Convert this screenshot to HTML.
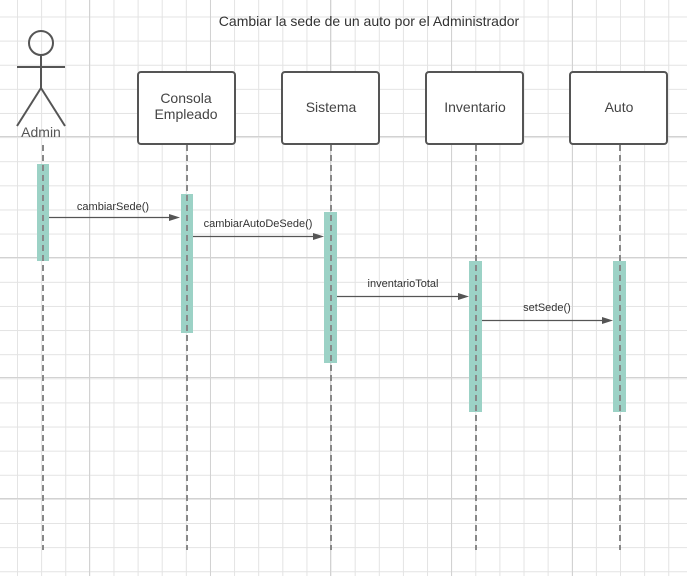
<!DOCTYPE html>
<html><head><style>
body{margin:0;width:687px;height:576px;overflow:hidden;background:#fff;font-family:"Liberation Sans",sans-serif;}
</style></head><body>
<svg width="687" height="576" xmlns="http://www.w3.org/2000/svg">
<defs>
<pattern id="g" x="17" y="16.5" width="24.12" height="24.12" patternUnits="userSpaceOnUse">
<path d="M0 0.5H24.12M0.5 0V24.12" stroke="#e3e3e3" stroke-width="1" fill="none"/>
</pattern>
</defs>
<rect width="687" height="576" fill="url(#g)"/>
<g stroke="#d2d2d2" stroke-width="1">
<line x1="89.5" y1="0" x2="89.5" y2="576"/><line x1="210.5" y1="0" x2="210.5" y2="576"/><line x1="330.5" y1="0" x2="330.5" y2="576"/><line x1="451.5" y1="0" x2="451.5" y2="576"/><line x1="572.5" y1="0" x2="572.5" y2="576"/>
<line x1="0" y1="136.5" x2="687" y2="136.5"/><line x1="0" y1="257.5" x2="687" y2="257.5"/><line x1="0" y1="377.5" x2="687" y2="377.5"/><line x1="0" y1="498.5" x2="687" y2="498.5"/>
</g>
<text x="369" y="26" font-size="14" fill="#333" text-anchor="middle">Cambiar la sede de un auto por el Administrador</text>
<g stroke="#555" stroke-width="2" fill="none">
<circle cx="41" cy="43" r="12"/>
<line x1="41" y1="55" x2="41" y2="88"/>
<line x1="17" y1="67" x2="65" y2="67"/>
<line x1="41" y1="88" x2="17" y2="126"/>
<line x1="41" y1="88" x2="65" y2="126"/>
</g>
<text x="41" y="137" font-size="14" fill="#555" text-anchor="middle">Admin</text>
<g stroke="#555" stroke-width="2" fill="#fff">
<rect x="138" y="72" width="97" height="72" rx="3"/>
<rect x="282" y="72" width="97" height="72" rx="3"/>
<rect x="426" y="72" width="97" height="72" rx="3"/>
<rect x="570" y="72" width="97" height="72" rx="3"/>
</g>
<g font-size="14" fill="#444" text-anchor="middle">
<text x="186" y="103">Consola</text><text x="186" y="119">Empleado</text>
<text x="331" y="112">Sistema</text>
<text x="475" y="112">Inventario</text>
<text x="619" y="112">Auto</text>
</g>
<g fill="#9cd2c6">
<rect x="37" y="164" width="12" height="97"/>
<rect x="181" y="194" width="12" height="139"/>
<rect x="324" y="212" width="13" height="151"/>
<rect x="469" y="261" width="13" height="151"/>
<rect x="613" y="261" width="13" height="151"/>
</g>
<g stroke="#888" stroke-width="2" stroke-dasharray="6,4">
<line x1="43" y1="145" x2="43" y2="550"/>
<line x1="187" y1="145" x2="187" y2="550"/>
<line x1="331" y1="145" x2="331" y2="550"/>
<line x1="476" y1="145" x2="476" y2="550"/>
<line x1="620" y1="145" x2="620" y2="550"/>
</g>
<g stroke="#555" stroke-width="1.3">
<line x1="49" y1="217.5" x2="172" y2="217.5"/>
<line x1="193" y1="236.5" x2="316" y2="236.5"/>
<line x1="337" y1="296.5" x2="460" y2="296.5"/>
<line x1="482" y1="320.5" x2="604" y2="320.5"/>
</g>
<g fill="#555">
<polygon points="180,217.5 169,214 169,221"/>
<polygon points="324,236.5 313,233 313,240"/>
<polygon points="469,296.5 458,293 458,300"/>
<polygon points="613,320.5 602,317 602,324"/>
</g>
<g font-size="11" fill="#333" text-anchor="middle">
<text x="113" y="210">cambiarSede()</text>
<text x="258" y="227">cambiarAutoDeSede()</text>
<text x="403" y="287">inventarioTotal</text>
<text x="547" y="311">setSede()</text>
</g>
</svg>
</body></html>
